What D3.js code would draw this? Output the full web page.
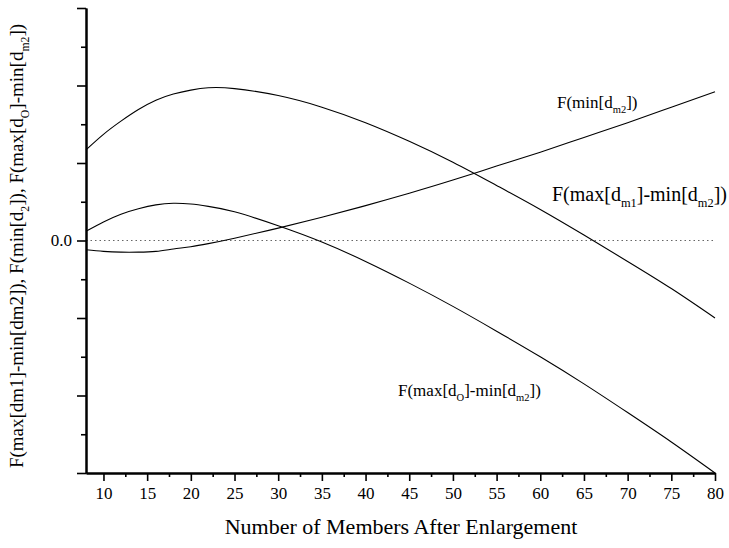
<!DOCTYPE html>
<html>
<head>
<meta charset="utf-8">
<script src="https://cdn.jsdelivr.net/npm/d3@7"></script>
<style>
body { margin: 0; background: #fff; }
</style>
</head>
<body>
<svg id="chart" width="729" height="548"></svg>
<script>
// ---- data ----
const xValues = [8, 10, 12, 14, 16, 18, 20, 22, 25, 30, 35, 40, 45, 50, 55, 60, 65, 70, 75, 80];
const seriesMaxDm1MinDm2 = [1.17, 1.37, 1.54, 1.69, 1.81, 1.89, 1.94, 1.97, 1.96, 1.87, 1.72, 1.52, 1.28, 1.01, 0.71, 0.40, 0.07, -0.27, -0.62, -1.00];
const seriesMaxDoMinDm2 = [0.12, 0.24, 0.34, 0.41, 0.46, 0.48, 0.47, 0.44, 0.37, 0.19, -0.02, -0.27, -0.55, -0.85, -1.17, -1.50, -1.85, -2.22, -2.60, -3.00];
const seriesMinDm2 = [-0.12, -0.14, -0.15, -0.15, -0.14, -0.11, -0.08, -0.04, 0.03, 0.16, 0.30, 0.45, 0.61, 0.78, 0.96, 1.14, 1.33, 1.52, 1.72, 1.92];
const xMajorTicks = [10, 15, 20, 25, 30, 35, 40, 45, 50, 55, 60, 65, 70, 75, 80];
const xMinorTicks = [12.5, 17.5, 22.5, 27.5, 32.5, 37.5, 42.5, 47.5, 52.5, 57.5, 62.5, 67.5, 72.5, 77.5];
const yMajorTicks = [-3, -2, -1, 0, 1, 2, 3];
const yMinorTicks = [-2.5, -1.5, -0.5, 0.5, 1.5, 2.5];
const yTickLabels = {"0": "0.0"};

const FONT = "Liberation Serif";
const svg = d3.select("#chart");
const x = d3.scaleLinear().domain([8, 80]).range([86, 715]);
const y = d3.scaleLinear().domain([-3, 3]).range([473, 8]);

// zero reference line (dotted)
svg.append("line")
  .attr("x1", x(8)).attr("x2", x(80))
  .attr("y1", y(0)).attr("y2", y(0))
  .attr("stroke", "#666").attr("stroke-width", 1)
  .attr("stroke-dasharray", "1.5,3");

// curves
const line = d3.line().x((d, i) => x(xValues[i])).y(d => y(d)).curve(d3.curveNatural);
[seriesMaxDm1MinDm2, seriesMaxDoMinDm2, seriesMinDm2].forEach(s => {
  svg.append("path").attr("d", line(s))
    .attr("fill", "none").attr("stroke", "#000").attr("stroke-width", 1.1);
});

// x axis
const gx = svg.append("g").attr("transform", `translate(0,${y(-3)})`);
gx.call(d3.axisBottom(x).tickValues(xMajorTicks).tickSize(8).tickSizeOuter(0).tickPadding(6).tickFormat(d3.format("d")));
gx.append("g").call(d3.axisBottom(x).tickValues(xMinorTicks).tickSize(4).tickSizeOuter(0).tickFormat(""));
gx.selectAll(".domain").attr("stroke-width", 2);
gx.selectAll(".tick line").attr("stroke-width", 1.6);
gx.attr("font-family", FONT);
gx.selectAll(".tick text").attr("font-family", FONT).attr("font-size", 17).attr("fill", "#000");
gx.selectAll(".tick text").filter(function() { return this.textContent === ""; }).remove();

// y axis
const gy = svg.append("g").attr("transform", `translate(${x(8)},0)`);
gy.call(d3.axisLeft(y).tickValues(yMajorTicks).tickSize(9).tickSizeOuter(0).tickPadding(5)
  .tickFormat(d => yTickLabels[String(d)] || ""));
gy.append("g").call(d3.axisLeft(y).tickValues(yMinorTicks).tickSize(5).tickSizeOuter(0).tickFormat(""));
gy.selectAll(".domain").attr("stroke-width", 2);
gy.selectAll(".tick line").attr("stroke-width", 1.6);
gy.attr("font-family", FONT);
gy.selectAll(".tick text").attr("font-family", FONT).attr("font-size", 17).attr("fill", "#000");
gy.selectAll(".tick text").filter(function() { return this.textContent === ""; }).remove();

// helper for text with subscripts
function richText(g, parts, size) {
  const t = g.append("text").attr("font-family", FONT).attr("font-size", size).attr("fill", "#000");
  const shift = size * 0.3;
  let pending = 0;
  parts.forEach(p => {
    const ts = t.append("tspan");
    if (p.sub) {
      ts.text(p.sub).attr("font-size", size * 0.62).attr("dy", shift);
      pending = -shift;
    } else {
      ts.text(p.t);
      if (pending) { ts.attr("dy", pending); pending = 0; }
    }
  });
  return t;
}

// curve labels
richText(svg, [{t: "F(min[d"}, {sub: "m2"}, {t: "])"}], 17).attr("x", 557).attr("y", 108);
richText(svg, [{t: "F(max[d"}, {sub: "m1"}, {t: "]-min[d"}, {sub: "m2"}, {t: "])"}], 20).attr("x", 552).attr("y", 201);
richText(svg, [{t: "F(max[d"}, {sub: "O"}, {t: "]-min[d"}, {sub: "m2"}, {t: "])"}], 17).attr("x", 398).attr("y", 396);

// axis titles
svg.append("text").attr("x", 401).attr("y", 534).attr("text-anchor", "middle")
  .attr("font-family", FONT).attr("font-size", 22).attr("fill", "#000")
  .text("Number of Members After Enlargement");

const yl = svg.append("g").attr("transform", "translate(23,246) rotate(-90)");
richText(yl, [{t: "F(max[dm1]-min[dm2]), F(min[d"}, {sub: "2"}, {t: "]), F(max[d"}, {sub: "O"}, {t: "]-min[d"}, {sub: "m2"}, {t: "])"}], 19)
  .attr("text-anchor", "middle");
</script>
</body>
</html>
